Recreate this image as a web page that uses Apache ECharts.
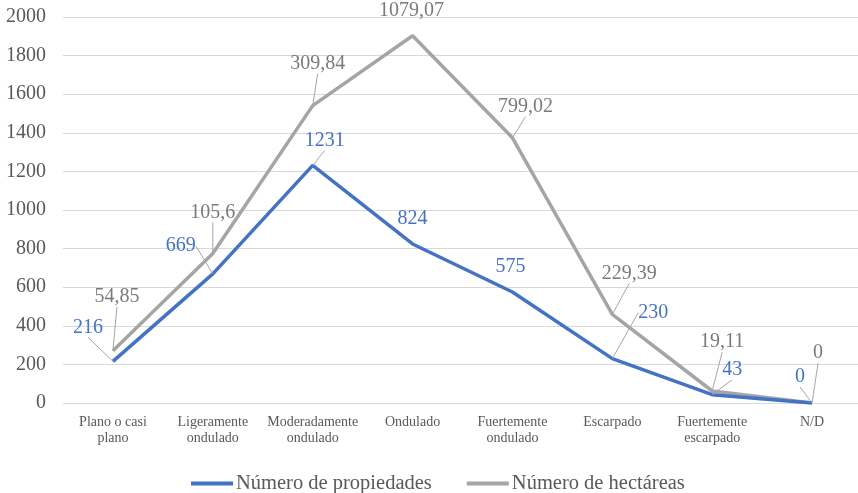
<!DOCTYPE html>
<html>
<head>
<meta charset="utf-8">
<script src="https://cdn.jsdelivr.net/npm/echarts@6/dist/echarts.min.js"></script>
<style>html,body{margin:0;padding:0;background:#fff}#c{width:858px;height:493px}</style>
</head>
<body>
<div id="c"></div>
<script>
var categories = ['Plano o casi\nplano','Ligeramente\nondulado','Moderadamente\nondulado','Ondulado','Fuertemente\nondulado','Escarpado','Fuertemente\nescarpado','N/D'];
var propiedades = [216, 669, 1231, 824, 575, 230, 43, 0];
var hectareas = [54.85, 105.6, 309.84, 1079.07, 799.02, 229.39, 19.11, 0];
var yTicks = [0, 200, 400, 600, 800, 1000, 1200, 1400, 1600, 1800, 2000];

// label offsets (layout only)
var blueOff = [[-25,-34],[-32,-28],[12,-25],[0,-25],[-2,-25],[41,-46],[20,-25],[-12,-26]];
var grayOff = [[4,-54],[0,-41],[5,-42],[-1,-25],[13,-31],[17,-41],[10,-49],[6,-50]];
var blueLeader = [true,true,true,false,false,true,true,true];
var grayLeader = [true,true,true,false,true,true,true,true];

var FONT = '"Liberation Serif", "Times New Roman", serif';
var BLUE = '#4472C4', GRAY = '#A5A5A5';

function fmt(v){ return String(v).replace('.', ','); }

function mkData(vals, leaders){
  return vals.map(function(v,i){
    return {value: v, labelLine: {show: leaders[i]}};
  });
}

var chart = echarts.init(document.getElementById('c'));
chart.setOption({
  animation: false,
  textStyle: {fontFamily: FONT},
  grid: {left: 63, width: 799, top: 17, bottom: 90, outerBoundsMode: 'none', containLabel: false},
  legend: {
    left: 186, top: 468,
    itemWidth: 42, itemHeight: 4, itemGap: 35,
    icon: 'rect',
    textStyle: {fontFamily: FONT, fontSize: 20.5, color: '#595959', padding: [0,0,0,-2]},
    data: ['Número de propiedades', 'Número de hectáreas']
  },
  xAxis: {
    type: 'category',
    data: categories,
    boundaryGap: true,
    axisLine: {show: false},
    axisTick: {show: false},
    axisLabel: {fontFamily: FONT, fontSize: 14, color: '#595959', margin: 11, lineHeight: 16, interval: 0}
  },
  yAxis: {
    type: 'value',
    min: yTicks[0], max: yTicks[yTicks.length-1], interval: 200,
    axisLine: {show: false},
    axisTick: {show: false},
    splitLine: {lineStyle: {color: '#D9D9D9', width: 1}},
    axisLabel: {fontFamily: FONT, fontSize: 20, color: '#595959', margin: 17,
      formatter: function(v){ return String(v); }}
  },
  series: [
    {
      name: 'Número de propiedades',
      type: 'line',
      stack: 'total',
      data: mkData(propiedades, blueLeader),
      color: BLUE,
      lineStyle: {color: BLUE, width: 3.5},
      symbol: 'circle', symbolSize: 0.1, showSymbol: true,
      label: {show: true, position: 'inside', fontFamily: FONT, fontSize: 20, color: BLUE,
        formatter: function(p){ return fmt(propiedades[p.dataIndex]); }},
      labelLine: {show: true, lineStyle: {color: '#A5A5A5', width: 1}},
      labelLayout: function(p){ var o = blueOff[p.dataIndex]; return {dx: o[0], dy: o[1], hideOverlap: false}; },
      z: 3
    },
    {
      name: 'Número de hectáreas',
      type: 'line',
      stack: 'total',
      data: mkData(hectareas, grayLeader),
      color: GRAY,
      lineStyle: {color: GRAY, width: 3.5},
      symbol: 'circle', symbolSize: 0.1, showSymbol: true,
      label: {show: true, position: 'inside', fontFamily: FONT, fontSize: 20, color: '#7A7A7A',
        formatter: function(p){ return fmt(hectareas[p.dataIndex]); }},
      labelLine: {show: true, lineStyle: {color: '#A5A5A5', width: 1}},
      labelLayout: function(p){ var o = grayOff[p.dataIndex]; return {dx: o[0], dy: o[1], hideOverlap: false}; },
      z: 2
    }
  ]
});
</script>
</body>
</html>
